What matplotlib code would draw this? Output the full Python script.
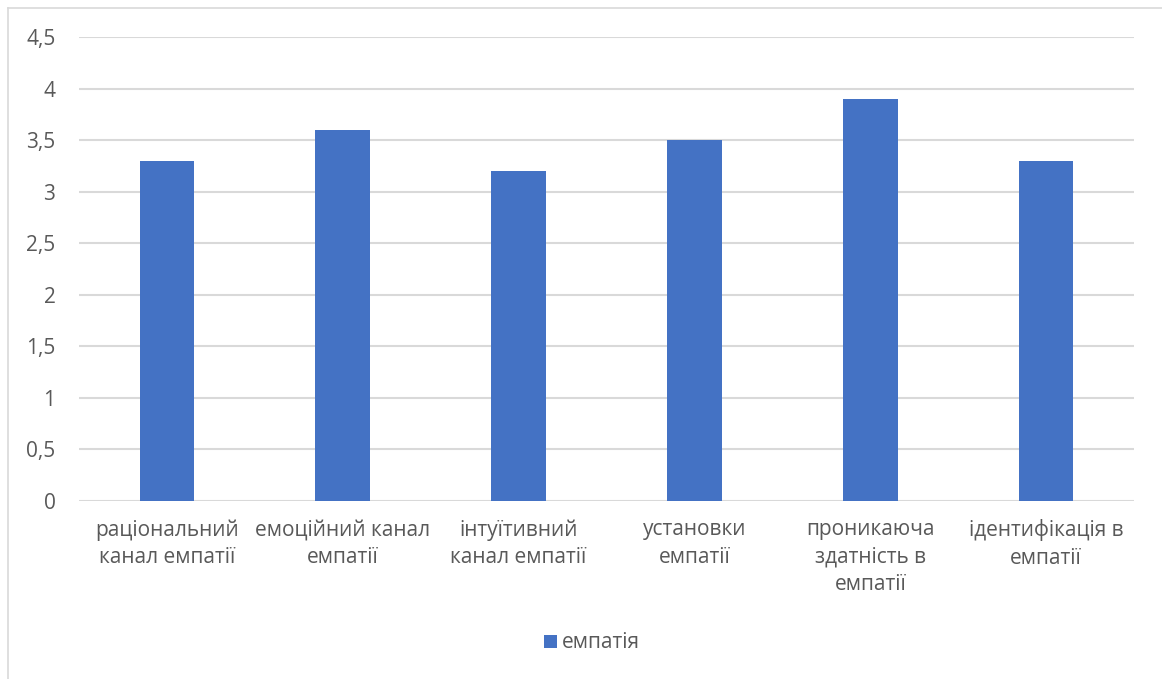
import matplotlib.pyplot as plt
from matplotlib.lines import Line2D
from matplotlib.ticker import FuncFormatter

plt.rcParams['font.family'] = ['Open Sans', 'DejaVu Sans']

# data
categories = ['раціональний\nканал емпатії', 'емоційний канал\nемпатії',
              'інтуїтивний\nканал емпатії', 'установки\nемпатії',
              'проникаюча\nздатність в\nемпатії', 'ідентифікація в\nемпатії']
values = [3.3, 3.6, 3.2, 3.5, 3.9, 3.3]
series_name = 'емпатія'
yticks = [0, 0.5, 1, 1.5, 2, 2.5, 3, 3.5, 4, 4.5]

W, H = 1162, 679
fig = plt.figure(figsize=(W / 100, H / 100), dpi=100)
ax = fig.add_axes([79 / W, 1 - 501 / H, (1134 - 79) / W, (501 - 37) / H])

txt = '#595959'
x = range(len(categories))
bars = ax.bar(x, values, width=0.31, color='#4472C4', zorder=3, label=series_name)

ax.set_xlim(-0.5, len(categories) - 0.5)
ax.set_ylim(0, 4.5)
ax.set_yticks(yticks)
ax.yaxis.set_major_formatter(FuncFormatter(lambda v, p: ('%g' % v).replace('.', ',')))
ax.set_xticks(list(x))
ax.set_xticklabels(categories, linespacing=1.42)
ax.grid(axis='y', color='#d9d9d9', linewidth=1.5, zorder=0)
for s in ax.spines.values():
    s.set_visible(False)
ax.tick_params(axis='both', length=0, labelsize=15, colors=txt)
ax.tick_params(axis='x', pad=13)
ax.tick_params(axis='y', pad=17)

# chart border (left and top visible)
fig.add_artist(Line2D([8 / W, 8 / W], [0, 1 - 8 / H], color='#d9d9d9', lw=1.2))
fig.add_artist(Line2D([8 / W, 1], [1 - 8 / H, 1 - 8 / H], color='#d9d9d9', lw=1.2))

leg = fig.legend(handles=[bars], labels=[series_name], loc='center',
                 bbox_to_anchor=(592 / W, 1 - 643 / H), frameon=False,
                 fontsize=15, handlelength=0.6, handleheight=0.6, handletextpad=0.25)
for t in leg.get_texts():
    t.set_color(txt)

fig.savefig('out.png', dpi=100)
